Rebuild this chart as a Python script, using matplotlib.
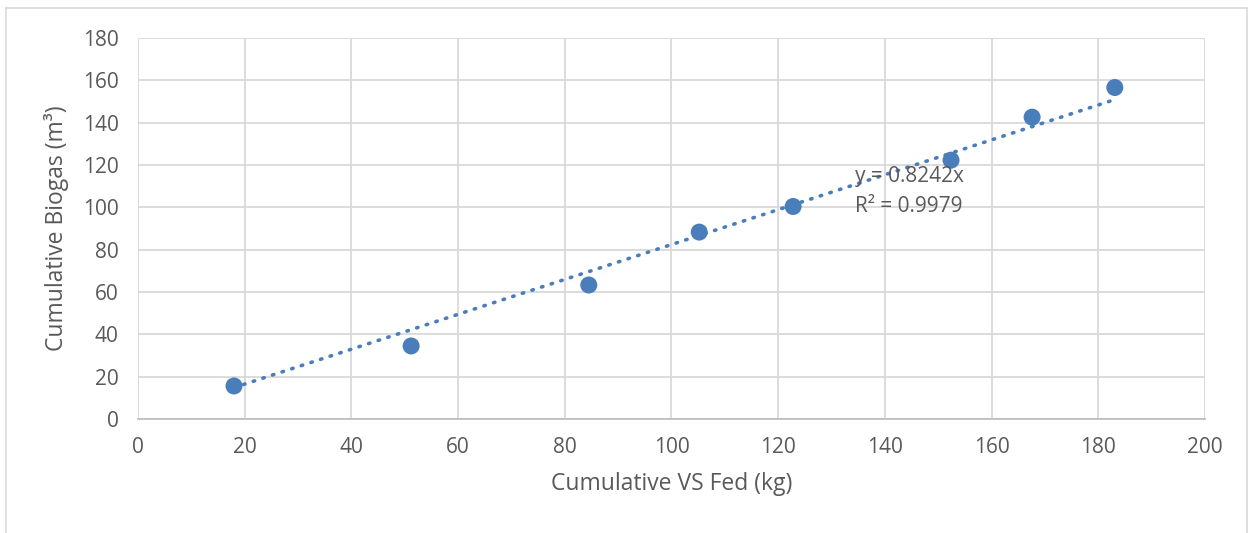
import numpy as np
import matplotlib.pyplot as plt
from matplotlib.lines import Line2D

vs_fed = [18.0, 51.2, 84.5, 105.2, 122.8, 152.4, 167.6, 183.1]
biogas = [15.6, 34.5, 63.3, 88.3, 100.4, 122.3, 142.6, 156.6]
slope = 0.8242
r2 = 0.9979

plt.rcParams['font.family'] = ['Open Sans', 'DejaVu Sans']
gray = '#595959'
blue = '#4a7ebb'

fig = plt.figure(figsize=(12.51, 5.33), dpi=100)
ax = fig.add_axes([0.1103, 0.2139, 0.8529, 0.7148])

# trendline through origin
xt = np.array([min(vs_fed), max(vs_fed)])
ax.plot(xt, slope * xt, linestyle=(0, (0.4, 2.4)), color=blue, lw=2.6,
        dash_capstyle='round', zorder=2)
ax.scatter(vs_fed, biogas, s=150, color=blue, zorder=3, edgecolors='none')

ax.text(134.4, 114.5, 'y = 0.8242x', fontsize=15, color=gray, va='center')
ax.text(134.4, 100.3, 'R² = 0.9979', fontsize=15, color=gray, va='center')

ax.set_xlim(0, 200)
ax.set_ylim(0, 180)
ax.set_xticks(range(0, 201, 20))
ax.set_yticks(range(0, 181, 20))
ax.grid(True, color='#d9d9d9', lw=1.3)
ax.set_axisbelow(True)
for s in ['top', 'right', 'left']:
    ax.spines[s].set_visible(False)
ax.spines['bottom'].set_color('#bfbfbf')
ax.spines['bottom'].set_linewidth(1.3)
ax.tick_params(length=0, labelsize=15, colors=gray)
ax.tick_params(axis='y', pad=14)
ax.tick_params(axis='x', pad=13)
ax.set_xlabel('Cumulative VS Fed (kg)', fontsize=16.5, color=gray, labelpad=10)
ax.set_ylabel('Cumulative Biogas (m³)', fontsize=16.5, color=gray, labelpad=10)

# chart border
bx0, bx1, by1 = 6 / 1251, 1247 / 1251, 1 - 8 / 533
for xs, ys in [([bx0, bx1], [by1, by1]), ([bx0, bx0], [0, by1]), ([bx1, bx1], [0, by1])]:
    fig.add_artist(Line2D(xs, ys, color='#d9d9d9', lw=1.2, transform=fig.transFigure))

plt.savefig('out.png', dpi=100)
